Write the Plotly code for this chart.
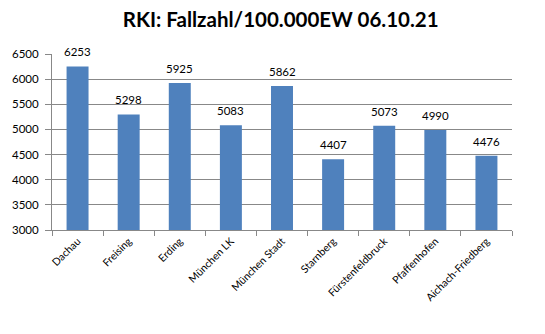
import plotly.graph_objects as go

categories = ["Dachau", "Freising", "Erding", "München LK", "München Stadt",
              "Starnberg", "Fürstenfeldbruck", "Pfaffenhofen", "Aichach-Friedberg"]
values = [6253, 5298, 5925, 5083, 5862, 4407, 5073, 4990, 4476]
yticks = [3000, 3500, 4000, 4500, 5000, 5500, 6000, 6500]

fig = go.Figure(go.Bar(
    x=categories, y=values,
    marker=dict(color="#4F81BD", line=dict(width=0)),
))

for c, v in zip(categories, values):
    fig.add_annotation(x=c, y=v, text=str(v), showarrow=False,
                       yanchor="bottom", yshift=6,
                       font=dict(size=11.5, color="black", family="Lato"))

fig.update_layout(
    width=545, height=334,
    margin=dict(l=48, r=33, t=54, b=104),
    paper_bgcolor="white", plot_bgcolor="white",
    bargap=0.57,
    showlegend=False,
    title=dict(text="<b>RKI: Fallzahl/100.000EW 06.10.21</b>",
               x=0.515, xanchor="center", y=0.94, yanchor="middle",
               font=dict(size=20.5, color="black", family="Lato")),
    font=dict(family="Lato", size=11, color="black"),
)
fig.update_xaxes(
    tickangle=-45, tickson="boundaries", ticks="outside", ticklen=5,
    tickcolor="#888888", showline=True, linecolor="#888888", linewidth=1,
    tickfont=dict(size=10.5), showgrid=False,
)
fig.update_yaxes(
    range=[3000, 6500], tickvals=yticks, ticks="outside", ticklen=6,
    tickcolor="#888888", showline=True, linecolor="#888888", linewidth=1,
    showgrid=True, gridcolor="#888888", gridwidth=1,
    tickfont=dict(size=11.5), zeroline=False, ticklabelstandoff=4,
)

fig.write_html("out.html")
